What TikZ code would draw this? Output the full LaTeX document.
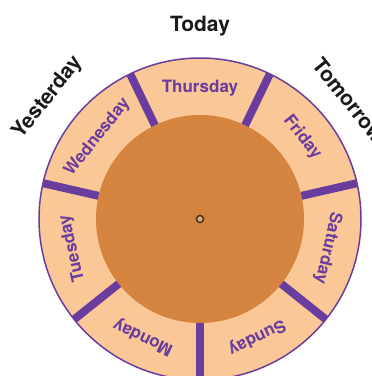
\documentclass[tikz,border=0pt]{standalone}
\usepackage{fontspec}
\setmainfont{TeX Gyre Heros}
\usepackage{xcolor}
\usetikzlibrary{positioning}
\definecolor{peach}{HTML}{F9C896}
\definecolor{clay}{HTML}{D4843F}
\definecolor{plum}{HTML}{6A3C9E}
\definecolor{ink}{HTML}{1A1A1A}

\begin{document}
\begin{tikzpicture}[x=1pt, y=1pt,
  day/.style={font=\bfseries\fontsize{17}{17}\selectfont, text=plum, inner sep=0pt},
  when/.style={font=\bfseries\fontsize{21}{21}\selectfont, text=ink, inner sep=0pt},
  spoke/.style={plum, line width=8pt},
  hub/.style={draw=ink!80!clay, line width=1.4pt, fill=clay!70!white}
]
  \useasboundingbox (-200,-157) rectangle (172,219);

  % ring and disc
  \fill[peach, draw=plum, line width=1.5pt] (0,0) circle (161);
  \fill[clay] (0,0) circle (104);

  % spokes between the days
  \foreach \k in {0,...,6}
    \draw[spoke] ({-90+\k*360/7}:104) -- ({-90+\k*360/7}:161);

  % day names round the ring
  \foreach \d/\a in {Thursday/90, Friday/38.57, Saturday/-12.86, Sunday/-64.29,
                     Monday/-115.71, Tuesday/-167.14, Wednesday/141.43}
    \node[day, rotate=\a-90] (\d) at (\a:131) {\d};

  \node[hub, circle, minimum size=7pt, inner sep=0pt] (hub) at (0,0) {};

  % outer labels
  \node[when] (today) at (90:193) {Today};
  \node[when, rotate=51.43] (yesterday) at (141.43:194) {Yesterday};
  \node[when, rotate=-51.43] (tomorrow) at (38.57:191) {Tomorrow};
\end{tikzpicture}
\end{document}
